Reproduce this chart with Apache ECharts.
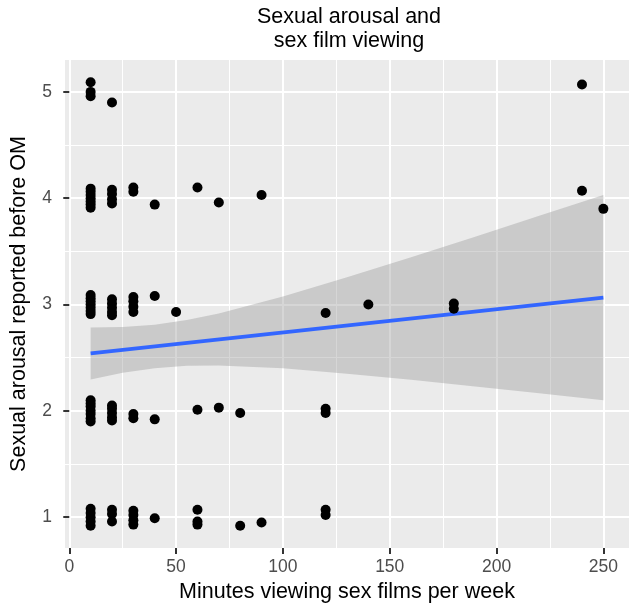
<!DOCTYPE html>
<html>
<head>
<meta charset="utf-8">
<script src="https://cdn.jsdelivr.net/npm/echarts@6/dist/echarts.min.js"></script>
<style>html,body{margin:0;padding:0;background:#fff}#c{width:629px;height:608px}</style>
</head>
<body>
<div id="c"></div>
<script>
// ---- data ----
const minutes = [
  10,10,10,20,240,
  10,10,10,10,10,10,10,20,20,20,20,30,30,40,60,70,90,240,250,
  10,10,10,10,10,10,10,20,20,20,20,20,30,30,30,30,40,50,120,140,180,180,
  10,10,10,10,10,10,10,20,20,20,20,20,30,30,40,60,70,80,120,120,
  10,10,10,10,10,20,20,20,30,30,30,30,40,60,60,60,80,90,120,120
];
const arousal = [
  5.09,5.00,4.96,4.90,5.07,
  4.09,4.06,4.03,4.00,3.97,3.94,3.91,4.08,4.04,3.99,3.95,4.10,4.06,3.94,4.10,3.96,4.03,4.07,3.90,
  3.09,3.06,3.03,3.00,2.97,2.94,2.91,3.05,3.01,2.97,2.93,2.90,3.07,3.03,2.98,2.93,3.08,2.93,2.92,3.00,3.01,2.96,
  2.10,2.07,2.04,2.00,1.97,1.93,1.90,2.05,2.02,1.98,1.94,1.91,1.97,1.93,1.92,2.01,2.03,1.98,2.02,1.98,
  1.08,1.04,1.00,0.96,0.92,1.07,1.03,0.96,1.06,1.02,0.97,0.93,0.99,1.07,0.96,0.93,0.92,0.95,1.07,1.02
];
const fitX = [10, 250];
const fitY = [2.54, 3.065];
const bandX     = [10,    25,    40,   55,    70,    100,  130,  160,   190,  220,   250];
const bandUpper = [2.785, 2.788, 2.81, 2.854, 2.916, 3.075,3.256,3.444, 3.638,3.834, 4.03];
const bandLower = [2.295, 2.358, 2.40, 2.424, 2.426, 2.40, 2.35, 2.292, 2.23, 2.166, 2.10];
const xMajor = [0, 50, 100, 150, 200, 250];
const xMinor = [25, 75, 125, 175, 225];
const yMajor = [1, 2, 3, 4, 5];
const yMinor = [1.5, 2.5, 3.5, 4.5];
const titleText = 'Sexual arousal and\nsex film viewing';
const xTitle = 'Minutes viewing sex films per week';
const yTitle = 'Sexual arousal reported before OM';

const FONT = 'Liberation Sans';
const chart = echarts.init(document.getElementById('c'), null, {renderer: 'canvas'});
const pts = minutes.map((m, i) => [m, arousal[i]]);

chart.setOption({
  animation: false,
  backgroundColor: '#ffffff',
  textStyle: {fontFamily: FONT},
  graphic: [{
    type: 'text', x: 349, y: 5, z: 100,
    style: {text: titleText, align: 'center', verticalAlign: 'top',
      font: '21.5px "Liberation Sans"', lineHeight: 24, fill: '#000'}
  }],
  grid: {left: 65, right: -5, top: 60, bottom: 58, show: true,
    backgroundColor: '#EBEBEB', borderWidth: 0},
  xAxis: [{
    type: 'value', min: -2, max: 262, position: 'bottom',
    axisLine: {show: false},
    axisTick: {show: true, customValues: xMajor, length: 6, lineStyle: {color: '#333333', width: 2}},
    axisLabel: {customValues: xMajor, color: '#4D4D4D', fontSize: 17.5, margin: 10, fontFamily: FONT},
    splitLine: {show: true, lineStyle: {color: '#ffffff', width: 2}},
    name: xTitle, nameLocation: 'middle', nameGap: 33,
    nameTextStyle: {fontSize: 21.5, color: '#000', fontFamily: FONT}
  }, {
    type: 'value', min: -2, max: 262, position: 'top',
    axisLine: {show: false}, axisLabel: {show: false},
    axisTick: {show: false, customValues: xMinor},
    splitLine: {show: true, lineStyle: {color: '#ffffff', width: 1}}
  }],
  yAxis: [{
    type: 'value', min: 0.71, max: 5.30, position: 'left',
    axisLine: {show: false},
    axisTick: {show: true, customValues: yMajor, length: 6, lineStyle: {color: '#333333', width: 2}},
    axisLabel: {customValues: yMajor, color: '#4D4D4D', fontSize: 17.5, margin: 13, fontFamily: FONT},
    splitLine: {show: true, lineStyle: {color: '#ffffff', width: 2}},
    name: yTitle, nameLocation: 'middle', nameGap: 35, nameRotate: 90,
    nameTextStyle: {fontSize: 21.5, color: '#000', fontFamily: FONT}
  }, {
    type: 'value', min: 0.71, max: 5.30, position: 'right',
    axisLine: {show: false}, axisLabel: {show: false},
    axisTick: {show: false, customValues: yMinor},
    splitLine: {show: true, lineStyle: {color: '#ffffff', width: 1}}
  }],
  series: [{
    type: 'custom', z: 2, silent: true, clip: true,
    data: bandX.map((x, i) => [x, bandUpper[i], bandLower[i]]),
    encode: {x: 0, y: [1, 2]},
    renderItem: function (params, api) {
      if (params.dataIndex !== 0) return null;
      const poly = [];
      for (let i = 0; i < bandX.length; i++) poly.push(api.coord([bandX[i], bandUpper[i]]));
      for (let i = bandX.length - 1; i >= 0; i--) poly.push(api.coord([bandX[i], bandLower[i]]));
      return {type: 'polygon', shape: {points: poly},
        style: {fill: 'rgba(153,153,153,0.4)', stroke: null}};
    }
  }, {
    type: 'line', data: fitX.map((x, i) => [x, fitY[i]]), z: 3,
    showSymbol: false, symbol: 'none', silent: true,
    lineStyle: {color: '#3366FF', width: 3.8}
  }, {
    type: 'scatter', data: pts, symbolSize: 10, z: 5,
    itemStyle: {color: '#000000', opacity: 1}, silent: true
  }]
});
</script>
</body>
</html>
